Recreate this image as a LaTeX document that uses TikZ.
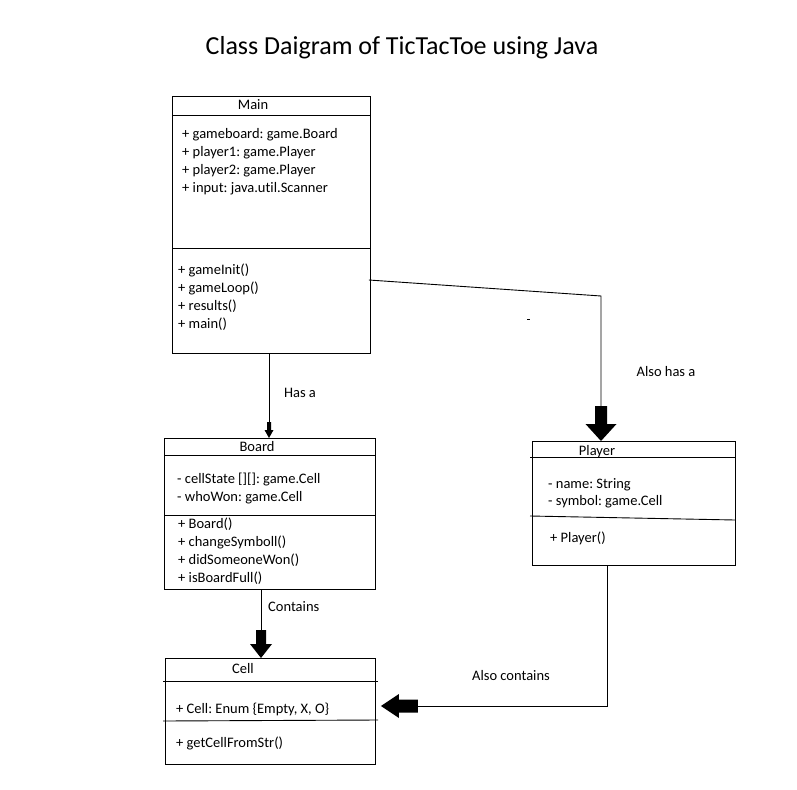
\documentclass[tikz,border=0pt]{standalone}
\usepackage{fontspec}
\setmainfont{Carlito}[Ligatures=NoCommon]
\usetikzlibrary{calc}
\frenchspacing
\begin{document}
\begin{tikzpicture}[x=1pt,y=-1pt,
  classbox/.style={draw, line width=0.9pt, inner sep=0pt, anchor=north west},
  sepline/.style={line width=0.9pt},
  conn/.style={line width=0.9pt},
  txt/.style={inner sep=0pt, font=\fontsize{14.5}{17}\selectfont},
  lt/.style={txt, anchor=base west},
  hd/.style={txt, anchor=base}]
\useasboundingbox[fill=white] (0,0) rectangle (797,789);

% title
\node[inner sep=0pt, anchor=base, font=\fontsize{26}{30}\selectfont] (title) at (402,55) {Class Daigram of TicTacToe using Java};

% Main
\node[classbox, minimum width=198pt, minimum height=257pt] (main) at (172,96) {};
\draw[sepline] (172,115) -- (370,115);
\draw[sepline] (172,248) -- (370,248);
\node[hd] (mainh) at (253,110) {Main};
\node[lt] (ma1) at (182,138.5) {+ gameboard: game.Board};
\node[lt] (ma2) at (182,156.5) {+ player1: game.Player};
\node[lt] (ma3) at (182,174.5) {+ player2: game.Player};
\node[lt] (ma4) at (182,192.5) {+ input: java.util.Scanner};
\node[lt] (mm1) at (178,274) {+ gameInit()};
\node[lt] (mm2) at (178,292) {+ gameLoop()};
\node[lt] (mm3) at (178,310) {+ results()};
\node[lt] (mm4) at (178,328) {+ main()};

% Board
\node[classbox, minimum width=211pt, minimum height=151pt] (board) at (164,438) {};
\draw[sepline] (164,455) -- (375,455);
\draw[sepline] (164,515) -- (375,515);
\node[hd] (boardh) at (257,451) {Board};
\node[lt] (ba1) at (177,483) {- cellState [][]: game.Cell};
\node[lt] (ba2) at (177,501) {- whoWon: game.Cell};
\node[lt] (bm1) at (178,528) {+ Board()};
\node[lt] (bm2) at (178,546) {+ changeSymboll()};
\node[lt] (bm3) at (178,564) {+ didSomeoneWon()};
\node[lt] (bm4) at (178,582) {+ isBoardFull()};

% Player
\node[classbox, minimum width=203pt, minimum height=124pt] (player) at (532,441) {};
\draw[sepline] (530,457) -- (735,457);
\draw[sepline] (530,516) -- (735,520);
\node[hd] (playerh) at (597,455) {Player};
\node[lt] (pa1) at (548,488) {- name: String};
\node[lt] (pa2) at (548,505) {- symbol: game.Cell};
\node[lt] (pm1) at (550,542) {+ Player()};

% Cell
\node[classbox, minimum width=210pt, minimum height=106pt] (cell) at (165,658) {};
\draw[sepline] (163,681) -- (378,681);
\draw[sepline] (163,721) -- (378,720);
\node[hd] (cellh) at (243,673) {Cell};
\node[lt] (ca1) at (176,713) {+ Cell: Enum \{Empty, X, O\}};
\node[lt] (cm1) at (176,747) {+ getCellFromStr()};

% Main -> Board (Has a)
\coordinate (mbA) at ($(main.south west)+(97,0)$);
\coordinate (mbB) at ($(board.north west)+(105,0)$);
\draw[conn] (mbA) -- ($(mbB)+(0,-16)$);
\fill (mbB) -- ++(-4.5,-8) -- ++(2.5,0) -- ++(0,-8) -- ++(4,0) -- ++(0,8) -- ++(2.5,0) -- cycle;
\node[txt, anchor=base] (lhas) at (300,397) {Has a};

% Main -> Player (Also has a)
\coordinate (mpA) at ($(main.north east)+(-2,184)$);
\coordinate (mpB) at ($(player.north west)+(69,0)$);
\coordinate (mpK) at ($(mpB)+(0,-145)$);
\draw[conn] (mpA) -- (mpK) -- ($(mpB)+(0,-34)$);
\fill (mpB) -- ++(-15.5,-17) -- ++(9.5,0) -- ++(0,-18) -- ++(12,0) -- ++(0,18) -- ++(9.5,0) -- cycle;
\node[txt, anchor=base] (lalso) at (666,376) {Also has a};
\fill (527,318.5) rectangle (529.5,319.8);

% Board -> Cell (Contains)
\coordinate (bcA) at ($(board.south west)+(97,0)$);
\coordinate (bcB) at ($(cell.north west)+(96,0)$);
\draw[conn] (bcA) -- ($(bcB)+(0,-27)$);
\fill (bcB) -- ++(-11,-14) -- ++(6,0) -- ++(0,-14) -- ++(10,0) -- ++(0,14) -- ++(6,0) -- cycle;
\node[txt, anchor=base west] (lcont) at (268,611) {Contains};

% Player -> Cell (Also contains)
\coordinate (pcA) at ($(player.south west)+(75,0)$);
\coordinate (pcB) at ($(cell.north east)+(5,48)$);
\coordinate (pcK) at ($(pcA |- pcB)$);
\draw[conn] (pcA) -- (pcK) -- ($(pcB)+(37,0)$);
\fill (pcB) -- ++(18,-12) -- ++(0,5.5) -- ++(19,0) -- ++(0,13) -- ++(-19,0) -- ++(0,5.5) -- cycle;
\node[txt, anchor=base] (lalsoc) at (511,680) {Also contains};
\end{tikzpicture}
\end{document}
